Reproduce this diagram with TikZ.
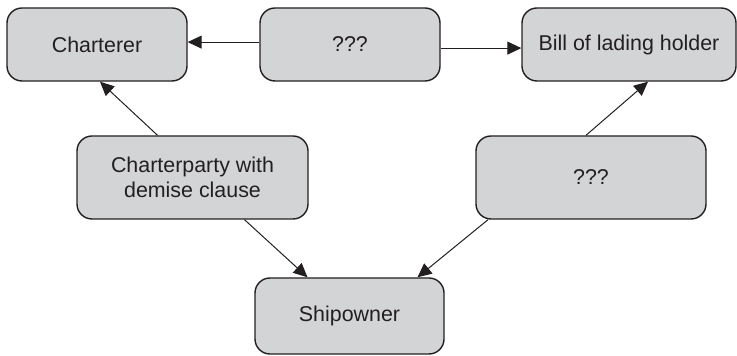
\documentclass[tikz,border=0pt]{standalone}
\usepackage{fontspec}
\setmainfont{Liberation Sans}
\usetikzlibrary{arrows.meta}
\usetikzlibrary{positioning}
\definecolor{boxgray}{RGB}{211,212,214}
\definecolor{inkblack}{RGB}{35,31,32}

\begin{document}
\begin{tikzpicture}[x=0.5pt,y=-0.5pt,
  party/.style={draw=inkblack,line width=0.7pt,fill=boxgray,
   rounded corners=7.5pt,align=center,inner sep=0pt,
   text=inkblack,font=\fontsize{10.7}{12.5}\selectfont},
  link/.style={draw=inkblack,line width=0.5pt,
   -{Triangle[length=7pt,width=6.5pt]}}]

 \useasboundingbox (0,0) rectangle (737,356);

 \node [party, minimum width=90pt, minimum height=36.5pt] (chart) at (97,44.5) {Charterer};
 \node [party, minimum width=90pt, minimum height=36.5pt] (qtop) at (350,44.5) {???};
 \node [party, minimum width=107pt, minimum height=36.5pt] (bill) at (629,44.5) {Bill of lading holder};

 \node [party, minimum width=115.5pt, minimum height=41.5pt] (cparty) at (192.5,177.5)
  {Charterparty with\\demise clause};
 \node [party, minimum width=115pt, minimum height=41.5pt] (qright) at (591,177.5) {???};

 \node [party, minimum width=94.5pt, minimum height=38pt] (owner) at (349.5,316) {Shipowner};

 \draw [link] ([yshift=1.2pt]qtop.west) -- ([yshift=1.2pt]chart.east);
 \draw [link] ([yshift=-1.8pt]qtop.east) -- ([yshift=-1.8pt]bill.west);

 \draw [link] ([xshift=-17.5pt]cparty.north) -- ([xshift=1.5pt]chart.south);
 \draw [link] ([xshift=26pt]cparty.south) -- ([xshift=-21pt]owner.north);
 \draw [link] ([xshift=-51.5pt]qright.south) -- ([xshift=34pt]owner.north);
 \draw [link] ([xshift=-2.5pt]qright.north) -- ([xshift=9.5pt]bill.south);
\end{tikzpicture}
\end{document}
